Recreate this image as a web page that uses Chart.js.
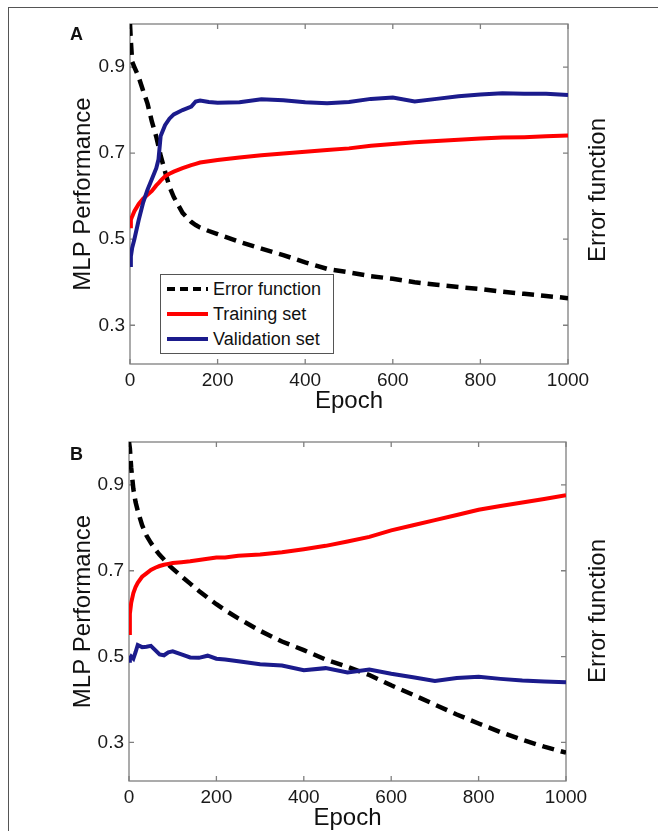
<!DOCTYPE html>
<html>
<head>
<meta charset="utf-8">
<title>MLP performance and error function</title>
<script src="https://cdn.jsdelivr.net/npm/chart.js@4.4.1/dist/chart.umd.min.js"></script>
<style>
  html, body { margin: 0; padding: 0; background: #fff; overflow: hidden; }
  body { width: 658px; height: 831px; position: relative; font-family: "Liberation Sans", Arial, Helvetica, sans-serif; color: #111; }
  .frame { position: absolute; left: 8px; top: 7px; width: 700px; height: 900px; border-left: 1px solid #555; border-top: 1px solid #555; }
  canvas { position: absolute; left: 0; }
  .tag { position: absolute; left: 70px; font-size: 18px; line-height: 20px; font-weight: bold; }
  .right-title { position: absolute; left: 477px; width: 240px; height: 28px; line-height: 28px; font-size: 24px; text-align: center; transform: rotate(-90deg); }
  .legend { position: absolute; left: 160px; top: 274px; width: 172px; height: 78px; border: 1px solid #555; background: #fff; }
  .legend .swatch { position: absolute; left: 6px; width: 41px; height: 4px; }
  .legend .lbl { position: absolute; left: 52px; font-size: 18px; line-height: 22px; white-space: nowrap; }
</style>
</head>
<body>
<div class="frame"></div>

<canvas id="chartA" width="658" height="416" style="top:0px"></canvas>
<canvas id="chartB" width="658" height="416" style="top:417px"></canvas>

<div class="tag" style="top:24px">A</div>
<div class="tag" style="top:444px">B</div>
<div class="right-title" style="top:176px">Error function</div>
<div class="right-title" style="top:597px">Error function</div>
<div class="legend" id="legendA"></div>

<script>
// ── Data ──────────────────────────────────────────────────
const epochsA = [0, 2, 5, 10, 20, 30, 40, 50, 60, 65, 70, 80, 90, 100, 120, 140, 150, 160, 180, 200,
  250, 300, 350, 400, 450, 500, 550, 600, 650, 700, 750, 800, 850, 900, 950, 1000];
const errorA = [1.00, 0.96, 0.912, 0.90, 0.876, 0.845, 0.815, 0.773, 0.738, 0.716, 0.694, 0.657, 0.622, 0.598,
  0.561, 0.540, 0.533, 0.527, 0.519, 0.512, 0.494, 0.478, 0.463, 0.446, 0.431, 0.423, 0.414, 0.408,
  0.400, 0.394, 0.389, 0.384, 0.378, 0.373, 0.368, 0.363];
const trainA = [0.530, 0.545, 0.553, 0.565, 0.582, 0.594, 0.603, 0.612, 0.625, 0.630, 0.636, 0.646, 0.652, 0.657,
  0.665, 0.672, 0.675, 0.678, 0.681, 0.684, 0.690, 0.695, 0.699, 0.703, 0.707, 0.711, 0.717, 0.721,
  0.725, 0.728, 0.731, 0.734, 0.736, 0.737, 0.739, 0.741];
const validA = [0.44, 0.46, 0.48, 0.50, 0.545, 0.585, 0.615, 0.64, 0.665, 0.685, 0.74, 0.765, 0.78, 0.79,
  0.80, 0.808, 0.82, 0.822, 0.819, 0.817, 0.818, 0.825, 0.823, 0.818, 0.816, 0.819, 0.826, 0.829,
  0.820, 0.826, 0.832, 0.836, 0.839, 0.838, 0.838, 0.835];

const epochsB = [0, 2, 5, 10, 15, 20, 30, 40, 50, 60, 70, 80, 90, 100, 120, 140, 160, 180, 200, 220,
  250, 300, 350, 400, 450, 500, 550, 600, 650, 700, 750, 800, 850, 900, 950, 1000];
const errorB = [1.00, 0.985, 0.94, 0.89, 0.86, 0.84, 0.806, 0.782, 0.765, 0.75, 0.737, 0.726, 0.714, 0.705,
  0.687, 0.670, 0.653, 0.637, 0.622, 0.608, 0.589, 0.560, 0.535, 0.515, 0.493, 0.476, 0.457, 0.433,
  0.411, 0.388, 0.365, 0.344, 0.324, 0.306, 0.290, 0.276];
const trainB = [0.555, 0.60, 0.625, 0.648, 0.662, 0.672, 0.686, 0.694, 0.702, 0.707, 0.711, 0.714, 0.716, 0.718,
  0.720, 0.722, 0.725, 0.728, 0.731, 0.731, 0.735, 0.738, 0.743, 0.750, 0.758, 0.768, 0.779, 0.794,
  0.806, 0.818, 0.830, 0.842, 0.851, 0.859, 0.867, 0.876];
const validB = [0.49, 0.495, 0.50, 0.495, 0.51, 0.527, 0.522, 0.523, 0.525, 0.515, 0.505, 0.503, 0.51, 0.512,
  0.505, 0.498, 0.497, 0.502, 0.495, 0.493, 0.489, 0.482, 0.479, 0.468, 0.473, 0.463, 0.470, 0.460,
  0.452, 0.443, 0.450, 0.453, 0.448, 0.444, 0.442, 0.440];

const xTicks = [0, 200, 400, 600, 800, 1000];
const yTicks = [0.3, 0.5, 0.7, 0.9];
const seriesNames = ['Error function', 'Training set', 'Validation set'];
const seriesColors = ['#000000', '#ff0000', '#1b1b8c'];

// ── Helpers ───────────────────────────────────────────────
const FONT = '"Liberation Sans", Arial, Helvetica, sans-serif';
const AXIS_GREY = '#7f7f7f';
const toPoints = (xs, ys) => xs.map((x, i) => ({ x, y: ys[i] }));

// MATLAB-style box with inward ticks on all four sides
const boxPlugin = {
  id: 'boxAxes',
  beforeDatasetsDraw(chart) {
    const { ctx, chartArea: a, scales } = chart;
    ctx.save();
    ctx.strokeStyle = AXIS_GREY;
    ctx.lineWidth = 1.3;
    ctx.strokeRect(a.left, a.top, a.right - a.left, a.bottom - a.top);
    ctx.beginPath();
    xTicks.forEach(v => {
      const px = scales.x.getPixelForValue(v);
      ctx.moveTo(px, a.bottom); ctx.lineTo(px, a.bottom - 5);
      ctx.moveTo(px, a.top); ctx.lineTo(px, a.top + 5);
    });
    yTicks.forEach(v => {
      const pl = scales.y.getPixelForValue(v);
      const pr = scales.y2.getPixelForValue(v);
      ctx.moveTo(a.left, pl); ctx.lineTo(a.left + 5, pl);
      ctx.moveTo(a.right, pr); ctx.lineTo(a.right - 5, pr);
    });
    ctx.stroke();
    ctx.restore();
  }
};

function makeChart(id, epochs, err, train, valid, g) {
  return new Chart(document.getElementById(id), {
    type: 'line',
    data: {
      datasets: [
        { label: seriesNames[2], data: toPoints(epochs, valid), yAxisID: 'y',
          borderColor: seriesColors[2], borderWidth: 4, pointRadius: 0, tension: 0 },
        { label: seriesNames[1], data: toPoints(epochs, train), yAxisID: 'y',
          borderColor: seriesColors[1], borderWidth: 4, pointRadius: 0, tension: 0 },
        { label: seriesNames[0], data: toPoints(epochs, err), yAxisID: 'y2',
          borderColor: seriesColors[0], borderWidth: 4.5, borderDash: [12, 7], pointRadius: 0, tension: 0 }
      ]
    },
    options: {
      responsive: false,
      animation: false,
      events: [],
      layout: { padding: { top: g.top, left: 0, right: 0, bottom: 0 } },
      plugins: { legend: { display: false }, tooltip: { enabled: false } },
      scales: {
        x: {
          type: 'linear', min: 0, max: 1000, position: 'bottom',
          grid: { display: false, drawTicks: false }, border: { display: false },
          afterBuildTicks: s => { s.ticks = xTicks.map(v => ({ value: v })); },
          ticks: { padding: 5, color: '#1a1a1a', font: { size: 19, family: FONT }, maxRotation: 0, autoSkip: false,
                   callback: v => String(v) },
          title: { display: true, text: 'Epoch', color: '#111', font: { size: 24, family: FONT }, padding: { top: 0, bottom: 0 } },
          afterFit: s => { s.height = g.xAxisH; }
        },
        y: {
          type: 'linear', min: 0.21, max: 1.0, position: 'left',
          grid: { display: false, drawTicks: false }, border: { display: false },
          afterBuildTicks: s => { s.ticks = yTicks.map(v => ({ value: v })); },
          ticks: { padding: 5, color: '#1a1a1a', font: { size: 19, family: FONT }, callback: v => v.toFixed(1) },
          title: { display: true, text: 'MLP Performance', color: '#111', font: { size: 24, family: FONT }, padding: { top: 69, bottom: 0 } },
          afterFit: s => { s.width = g.left; }
        },
        y2: {
          type: 'linear', min: 0.21, max: 1.0, position: 'right',
          grid: { display: false, drawTicks: false }, border: { display: false },
          afterBuildTicks: s => { s.ticks = yTicks.map(v => ({ value: v })); },
          ticks: { display: false },
          afterFit: s => { s.width = 658 - g.right; }
        }
      }
    },
    plugins: [boxPlugin]
  });
}

makeChart('chartA', epochsA, errorA, trainA, validA, { top: 24, left: 130, right: 568, xAxisH: 52 });
makeChart('chartB', epochsB, errorB, trainB, validB, { top: 25, left: 129, right: 566, xAxisH: 52 });

// ── Legend (panel A) ──────────────────────────────────────
const legend = document.getElementById('legendA');
[0, 1, 2].forEach(i => {
  const cy = 14 + i * 25;
  const sw = document.createElement('div');
  sw.className = 'swatch';
  sw.style.top = (cy - 2) + 'px';
  sw.style.background = i === 0
    ? `repeating-linear-gradient(to right, ${seriesColors[0]} 0 8px, transparent 8px 13px)`
    : seriesColors[i];
  const lbl = document.createElement('div');
  lbl.className = 'lbl';
  lbl.style.top = (cy - 11) + 'px';
  lbl.textContent = seriesNames[i];
  legend.appendChild(sw);
  legend.appendChild(lbl);
});
</script>
</body>
</html>
